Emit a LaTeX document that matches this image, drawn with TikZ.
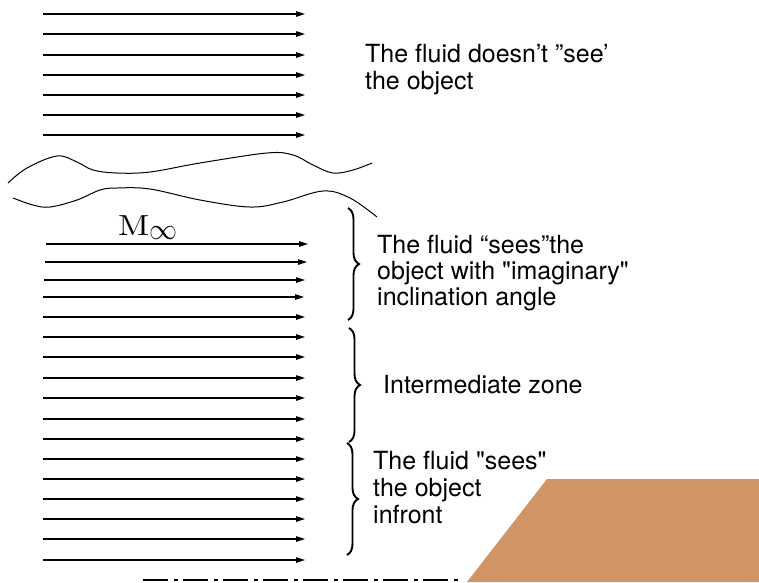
\documentclass[tikz,border=0pt]{standalone}
\usepackage[no-math]{fontspec}
\newfontfamily\heros{TeX Gyre Heros}
\usetikzlibrary{arrows.meta,decorations.pathreplacing}
\definecolor{objbrown}{RGB}{209,148,101}
\begin{document}
\begin{tikzpicture}[x=1pt,y=-1pt,
  flow/.style={line width=1.1pt,-{Triangle[length=9pt,width=5.5pt]}},
  zonebrace/.style={decorate,decoration={brace,amplitude=11pt},line width=1.9pt},
  lbl/.style={anchor=base west,inner sep=0pt,font=\heros\fontsize{25}{27}\selectfont},
  wave/.style={line width=1pt},
  axis/.style={line width=2pt,dash pattern=on 25pt off 6pt on 4pt off 5pt}]
\useasboundingbox (0,0) rectangle (759,582);
\fill[white] (0,0) rectangle (759,582);

% upper flow (far field)
\foreach \i/\y in {1/14,2/34,3/55,4/75,5/95,6/115,7/135}{
  \coordinate (ts\i) at (43,\y);
  \coordinate (te\i) at (305,\y);
  \draw[flow] (ts\i) -- (te\i);
}

% break lines
\draw[wave] plot[smooth,tension=0.6] coordinates {(8,183) (27,168) (57,156) (77,162) (93,170) (117,173) (150,172) (200,163) (267,153) (293,155) (313,165) (333,173) (353,170) (372,163)};
\draw[wave] plot[smooth,tension=0.6] coordinates {(13,198) (33,205) (50,207) (77,200) (100,190) (117,188) (150,189) (200,200) (250,207) (283,202) (323,191) (350,198) (377,217)};

% lower flow
\foreach \i/\y/\xs/\xe in {1/244/46/308,2/262/45/307,3/280/44/305,4/297/43/304,5/317/43/305,6/337/43/305,7/357/43/305,8/378/43/305,9/398/43/305,10/419/43/305,11/439/43/305,12/459/43/305,13/479/43/305,14/499/43/305,15/519/43/305,16/539/43/305,17/560/43/305}{
  \coordinate (ls\i) at (\xs,\y);
  \coordinate (le\i) at (\xe,\y);
  \draw[flow] (ls\i) -- (le\i);
}

\node[anchor=base west,inner sep=0pt] (minf) at (118,235)
  {\scalebox{3.4}[2.9]{$\mathrm{M}$}\raisebox{-4pt}{\scalebox{2.8}[3]{$\infty$}}};

% braces
\coordinate (b1t) at (348,208); \coordinate (b1b) at (348,320);
\coordinate (b2t) at (349,328); \coordinate (b2b) at (349,442);
\coordinate (b3t) at (347,443); \coordinate (b3b) at (347,555);
\draw[zonebrace] (b1t) -- (b1b);
\draw[zonebrace] (b2t) -- (b2b);
\draw[zonebrace] (b3t) -- (b3b);

% labels
\node[lbl] (t1a) at (365,62) {The fluid doesn’t ”see’};
\node[lbl] (t1b) at (365,89) {the object};
\node[lbl] (t2a) at (377,253) {The fluid “sees”the};
\node[lbl] (t2b) at (377,279) {object with "imaginary"};
\node[lbl] (t2c) at (377,305) {inclination angle};
\node[lbl] (t3a) at (383,393) {Intermediate zone};
\node[lbl] (t4a) at (373,469) {The fluid "sees"};
\node[lbl] (t4b) at (373,496) {the object};
\node[lbl] (t4c) at (373,523) {infront};

% object and axis
\fill[objbrown] (467,582) -- (547,479) -- (759,479) -- (759,582) -- cycle;
\coordinate (axs) at (143,580);
\coordinate (axe) at (462,580);
\draw[axis] (axs) -- (axe);
\end{tikzpicture}
\end{document}
